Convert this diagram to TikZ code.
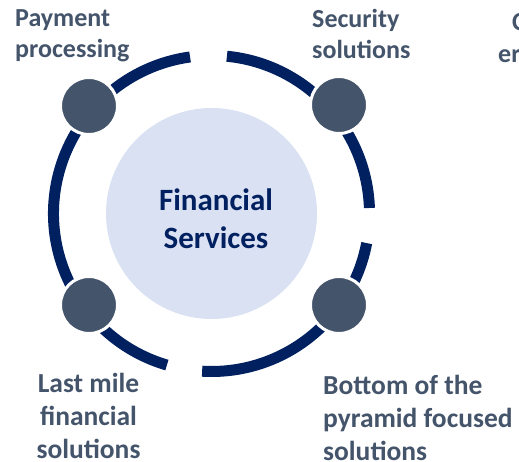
\documentclass[tikz,border=0pt]{standalone}
\usepackage{fontspec}
\setmainfont{Carlito}
\definecolor{ringblue}{HTML}{002060}
\definecolor{slate}{HTML}{44546A}
\definecolor{coreblue}{HTML}{DAE1F3}

\begin{document}
\begin{tikzpicture}[x=1pt,y=1pt,
    dot/.style={circle,fill=slate,draw=white,line width=3pt,minimum size=57pt,inner sep=0pt},
    lbl/.style={inner sep=0pt,text=slate,font=\fontsize{26}{31}\selectfont\bfseries},
    lblb/.style={lbl,font=\fontsize{27.5}{33}\selectfont\bfseries},
    ring/.style={ringblue,line width=11pt}
  ]
    \useasboundingbox (0,0) rectangle (519,462);
    \clip (0,0) rectangle (519,462);

    % core circle
    \node[circle,fill=coreblue,minimum size=211pt,inner sep=0pt] (core) at (211.5,248.5) {};
    \node[text=ringblue,align=center,inner sep=0pt,font=\fontsize{31}{38}\selectfont\bfseries] (fs) at (216,243) {Financial\\Services};

    % dashed ring
    \draw[ring] (core.center) ++(84.4:158) arc[start angle=84.4,end angle=2,radius=158];
    \draw[ring] (core.center) ++(-10.8:158) arc[start angle=-10.8,end angle=-93.4,radius=158];
    \draw[ring] (core.center) ++(-106.4:158) arc[start angle=-106.4,end angle=-262.2,radius=158];

    % dots
    \node[dot] (tl) at (89,356) {};
    \node[dot] (tr) at (339,357) {};
    \node[dot] (bl) at (89,157) {};
    \node[dot] (br) at (339,157) {};

    % labels
    \node[lbl,anchor=north west,align=left] (pay) at (15,453) {Payment\\processing};
    \node[lbl,anchor=north west,align=left] (sec) at (312,453) {Security\\solutions};
    \node[lbl,anchor=base west] (cst) at (512,431) {C};
    \node[lbl,anchor=base west] (eng) at (498,399) {er};
    \node[lblb,anchor=north,align=center] (lm) at (88.5,89) {Last mile\\financial\\solutions};
    \node[lblb,anchor=north west,align=left] (bop) at (323,87) {Bottom of the\\pyramid focused\\solutions};
\end{tikzpicture}
\end{document}
